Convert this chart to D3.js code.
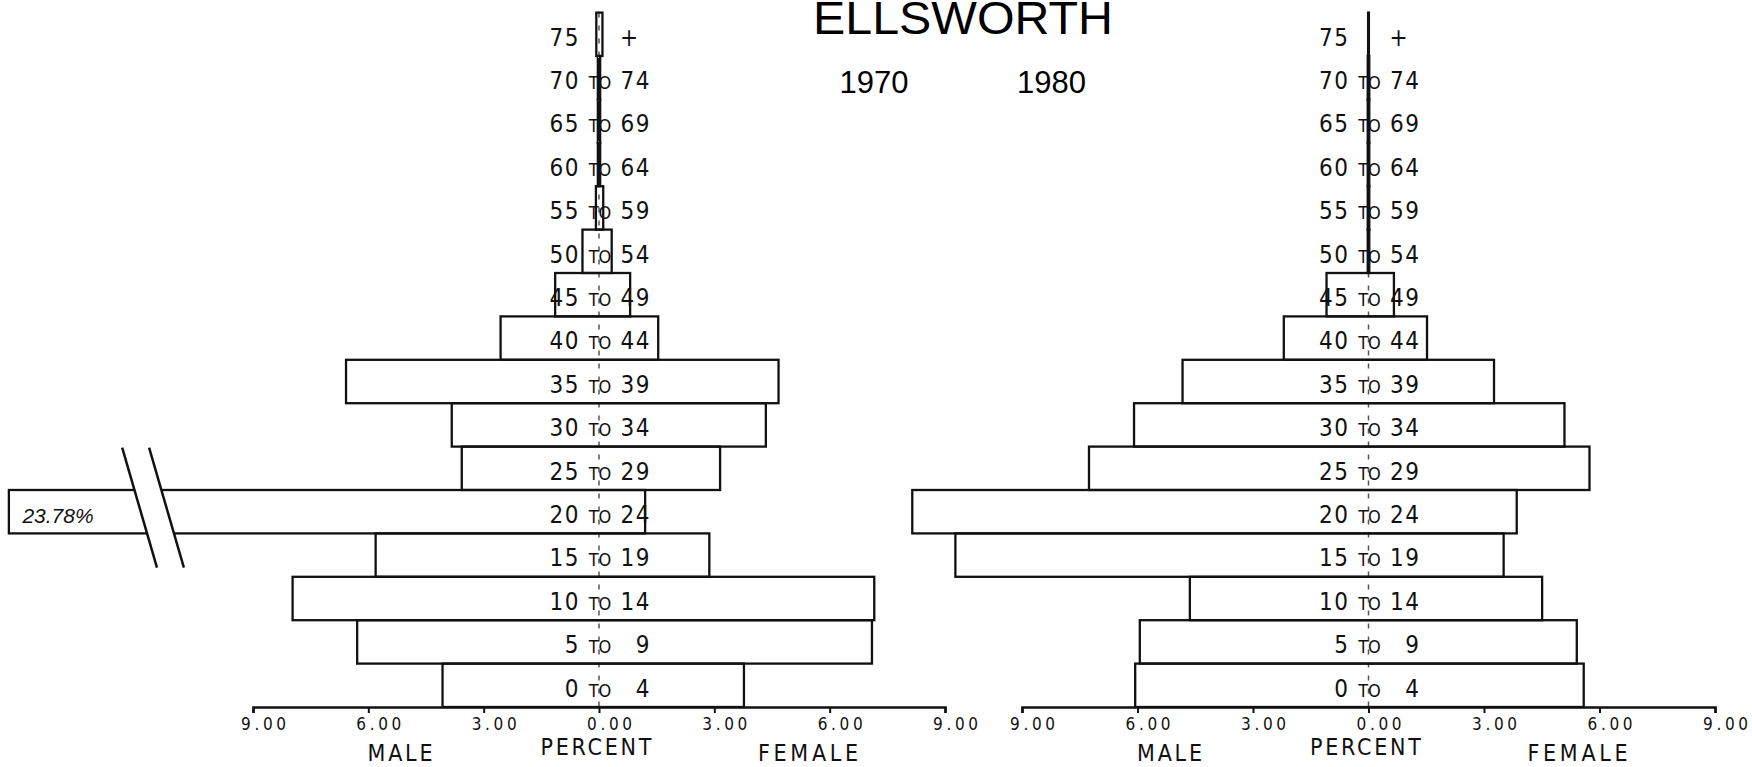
<!DOCTYPE html>
<html><head><meta charset="utf-8">
<script src="https://cdn.jsdelivr.net/npm/d3@7"></script>
<style>body{margin:0;background:#fff;} svg{display:block;}</style>
</head><body>
<svg id="chart" width="1752" height="767"></svg>
<script>
// ---- data ----
const ageStarts = ["0","5","10","15","20","25","30","35","40","45","50","55","60","65","70","75"];
const ageEnds   = ["4","9","14","19","24","29","34","39","44","49","54","59","64","69","74","+"];
const male1970   = [4.07, 6.29, 7.97, 5.81, 23.78, 3.57, 3.83, 6.58, 2.56, 1.14, 0.43, 0.08, 0.03, 0.03, 0.03, 0.07];
const female1970 = [3.77, 7.10, 7.16, 2.87, 1.20, 3.15, 4.34, 4.67, 1.54, 0.81, 0.33, 0.11, 0.03, 0.03, 0.03, 0.09];
const male1980   = [6.06, 5.94, 4.64, 10.73, 11.85, 7.26, 6.09, 4.83, 2.20, 1.09, 0.02, 0.02, 0.02, 0.02, 0.02, 0.01];
const female1980 = [5.59, 5.41, 4.51, 3.51, 3.85, 5.74, 5.09, 3.26, 1.52, 0.66, 0.02, 0.02, 0.02, 0.02, 0.02, 0.01];
const tickValues = [-9, -6, -3, 0, 3, 6, 9];
const titleText = "ELLSWORTH";
const years = ["1970", "1980"];
const axisTitles = ["MALE", "PERCENT", "FEMALE"];
const breakLimit = 15.35;          // bars above this value are drawn broken
const breakMarks = [11.95, 11.25]; // where the break slashes cross the bar (percent)

// ---- layout ----
const svg = d3.select("#chart");
const axisY = 707, topY = 12.6;
const y = d3.scaleBand().domain(d3.range(ageStarts.length)).range([axisY, topY]).padding(0);
const bw = y.bandwidth();

const panels = [
  {male: male1970, female: female1970, x: d3.scaleLinear().domain([-9, 9]).range([253, 945])},
  {male: male1980, female: female1980, x: d3.scaleLinear().domain([-9, 9]).range([1022, 1715])}
];

const labelFont = "'DejaVu Sans Condensed','DejaVu Sans',sans-serif";
const sansFont = "'Liberation Sans',Arial,Helvetica,sans-serif";

panels.forEach((p) => {
  const x = p.x;
  const g = svg.append("g");
  const rows = d3.range(ageStarts.length).map(i => ({
    i, m: p.male[i], f: p.female[i], mShown: Math.min(p.male[i], breakLimit)
  }));

  // center dashed line
  g.append("line")
    .attr("x1", x(0)).attr("x2", x(0))
    .attr("y1", topY).attr("y2", axisY)
    .attr("stroke", "#555").attr("stroke-width", 1.5)
    .attr("stroke-dasharray", "5,8");

  // bars
  g.selectAll("rect.bar").data(rows).join("rect")
    .attr("class", "bar")
    .attr("x", d => x(-d.mShown))
    .attr("y", d => y(d.i))
    .attr("width", d => x(d.f) - x(-d.mShown))
    .attr("height", bw)
    .attr("fill", "none")
    .attr("stroke", "#111")
    .attr("stroke-width", 2.3);

  // broken bars
  rows.filter(d => d.m > breakLimit).forEach(d => {
    const mid = y(d.i) + bw / 2;
    const slope = 0.29, half = 60, cy = mid - 4;
    const pts = breakMarks.map(v => {
      const cx = x(-v);
      return [[cx - slope * half, cy - half], [cx + slope * half, cy + half]];
    });
    g.append("polygon")
      .attr("points", [pts[0][0], pts[1][0], pts[1][1], pts[0][1]].map(q => q.join(",")).join(" "))
      .attr("fill", "#fff");
    pts.forEach(l => {
      g.append("line")
        .attr("x1", l[0][0]).attr("y1", l[0][1])
        .attr("x2", l[1][0]).attr("y2", l[1][1])
        .attr("stroke", "#111").attr("stroke-width", 2.5);
    });
    g.append("text")
      .attr("x", x(-breakLimit) + 13.5)
      .attr("y", mid + 11)
      .attr("font-family", sansFont)
      .attr("font-style", "italic")
      .attr("font-size", 21)
      .attr("fill", "#111")
      .text(d.m.toFixed(2) + "%");
  });

  // row labels
  const lab = g.append("g").attr("fill", "#111").attr("font-family", labelFont);
  rows.forEach(d => {
    const base = y(d.i) + bw / 2 + 11.3;
    lab.append("text")
      .attr("x", x(0) - 19).attr("y", base)
      .attr("text-anchor", "end").attr("font-size", 24).attr("letter-spacing", 1.5)
      .text(ageStarts[d.i]);
    const end = ageEnds[d.i];
    const numeric = !isNaN(+end);
    if (numeric) {
      lab.append("text")
        .attr("x", x(0) + 1).attr("y", base)
        .attr("text-anchor", "middle").attr("font-size", 18)
        .text("TO");
    }
    lab.append("text")
      .attr("x", numeric ? x(0) + 52 : x(0) + 21)
      .attr("y", base)
      .attr("text-anchor", numeric ? "end" : "start")
      .attr("font-size", 24).attr("letter-spacing", 1.5)
      .text(end);
  });

  // axis
  const axis = d3.axisBottom(x).tickValues(tickValues)
    .tickSize(6).tickSizeOuter(6)
    .tickFormat(v => Math.abs(v).toFixed(2));
  const ag = svg.append("g").attr("transform", `translate(0,${axisY})`).call(axis);
  ag.select(".domain").attr("stroke", "#111").attr("stroke-width", 2.6);
  ag.selectAll(".tick line").attr("stroke", "#111").attr("stroke-width", 2);
  ag.selectAll(".tick text")
    .attr("y", 23).attr("dy", 0).attr("dx", 10)
    .attr("font-family", labelFont).attr("font-size", 17)
    .attr("textLength", 45).attr("lengthAdjust", "spacing")
    .attr("fill", "#111");

  // axis titles
  const tg = svg.append("g").attr("font-family", labelFont).attr("fill", "#111").attr("text-anchor", "middle");
  tg.append("text").attr("x", x(0) - 199).attr("y", 761).attr("font-size", 23)
    .attr("textLength", 65).attr("lengthAdjust", "spacing").text(axisTitles[0]);
  tg.append("text").attr("x", x(0) - 3).attr("y", 755).attr("font-size", 23)
    .attr("textLength", 111).attr("lengthAdjust", "spacing").text(axisTitles[1]);
  tg.append("text").attr("x", x(0) + 209).attr("y", 761).attr("font-size", 23)
    .attr("textLength", 100).attr("lengthAdjust", "spacing").text(axisTitles[2]);
});

// title and years
svg.append("text")
  .attr("x", 963).attr("y", 34)
  .attr("text-anchor", "middle")
  .attr("font-family", sansFont).attr("font-size", 46)
  .attr("textLength", 300).attr("lengthAdjust", "spacingAndGlyphs")
  .attr("fill", "#000")
  .text(titleText);

const yearX = d3.scalePoint().domain(years).range([874, 1051.5]);
svg.selectAll("text.year").data(years).join("text")
  .attr("class", "year")
  .attr("x", d => yearX(d)).attr("y", 93)
  .attr("text-anchor", "middle")
  .attr("font-family", sansFont).attr("font-size", 31)
  .attr("fill", "#000")
  .text(d => d);
</script>
</body></html>
